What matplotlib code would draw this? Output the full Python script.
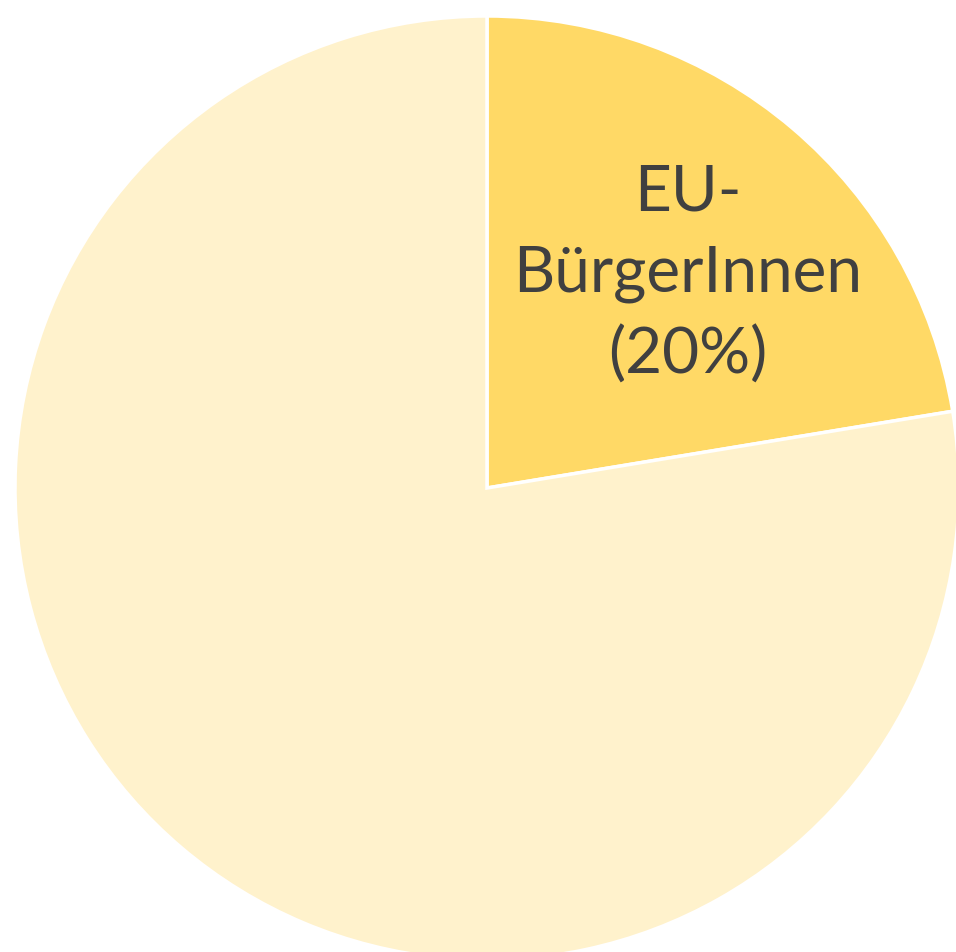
import matplotlib.pyplot as plt

labels = ["EU-\nBürgerInnen\n(20%)", ""]
values = [22.4, 77.6]
colors = ["#FFD966", "#FFF2CC"]

fig = plt.figure(figsize=(9.56, 9.53), dpi=100)
# pie centre at about (487, 489) px, radius about 472 px
ax = fig.add_axes([15 / 956, -8 / 953, 944 / 956, 944 / 953])

wedges, texts = ax.pie(values, colors=colors, startangle=90, counterclock=False,
                       radius=1.0, wedgeprops=dict(edgecolor="white", linewidth=2.5))

ax.text(0.425, 0.455, labels[0], ha="center", va="center", fontsize=46,
        family="Lato", color="#404040", linespacing=1.48)

ax.set_xlim(-1, 1)
ax.set_ylim(-1, 1)
ax.set_aspect("equal")
ax.axis("off")

fig.savefig("out.png", dpi=100, facecolor="white")
